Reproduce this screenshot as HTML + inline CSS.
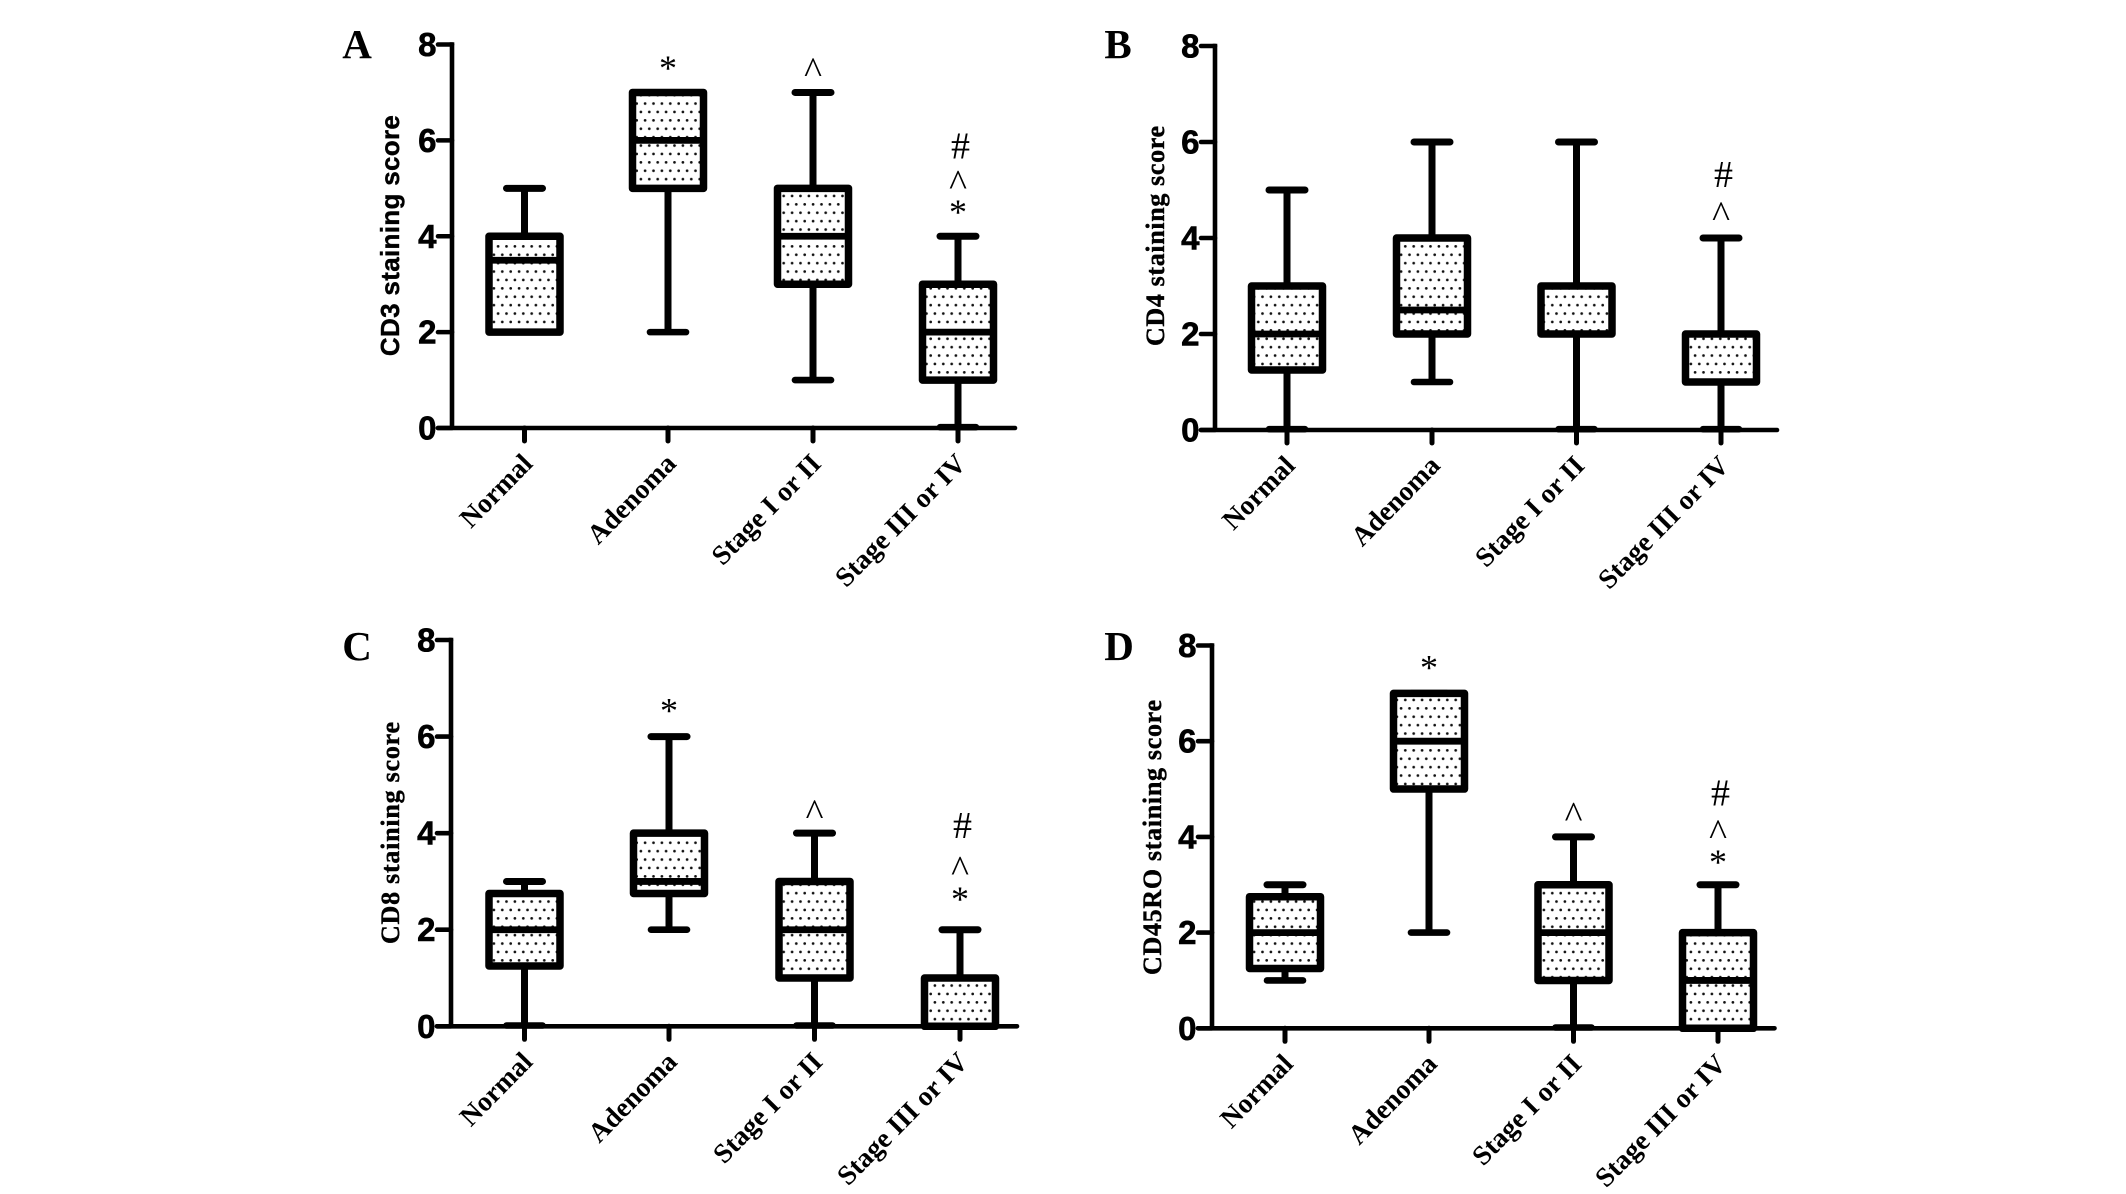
<!DOCTYPE html>
<html lang="en">
<head>
<meta charset="utf-8">
<title>T cell staining scores</title>
<style>
html,body{margin:0;padding:0;background:#fff;width:2126px;height:1194px;overflow:hidden}
svg{display:block}
</style>
</head>
<body>
<svg id="figure" xmlns="http://www.w3.org/2000/svg" width="2126" height="1194" viewBox="0 0 2126 1194">
  <rect width="2126" height="1194" fill="#fff"/>
  <defs>
    <pattern id="dots" patternUnits="userSpaceOnUse" x="496.7" y="245" width="8.4" height="16.8">
      <circle cx="1.4" cy="1.4" r="1.35" fill="#111"/>
      <circle cx="5.6" cy="9.8" r="1.35" fill="#111"/>
    </pattern>
  </defs>
</svg>
<script>
const categories = ['Normal', 'Adenoma', 'Stage I or II', 'Stage III or IV'];
const yTicks = [0, 2, 4, 6, 8];

const cd3Min = [2, 2, 1, 0];
const cd3Q1 = [2, 5, 3, 1];
const cd3Median = [3.5, 6, 4, 2];
const cd3Q3 = [4, 7, 5, 3];
const cd3Max = [5, 7, 7, 4];
const cd3MarkCategory = [1, 2, 3, 3, 3];
const cd3MarkSymbol = ['*', '^', '#', '^', '*'];
const cd3MarkValue = [7.57, 7.56, 5.87, 5.21, 4.56];

const cd4Min = [0, 1, 0, 0];
const cd4Q1 = [1.25, 2, 2, 1];
const cd4Median = [2, 2.5, 2, 1];
const cd4Q3 = [3, 4, 3, 2];
const cd4Max = [5, 6, 6, 4];
const cd4MarkCategory = [3, 3];
const cd4MarkSymbol = ['#', '^'];
const cd4MarkValue = [5.31, 4.59];

const cd8Min = [0, 2, 0, 0];
const cd8Q1 = [1.25, 2.75, 1, 0];
const cd8Median = [2, 3, 2, 0];
const cd8Q3 = [2.75, 4, 3, 1];
const cd8Max = [3, 6, 4, 2];
const cd8MarkCategory = [1, 2, 3, 3, 3];
const cd8MarkSymbol = ['*', '^', '#', '^', '*'];
const cd8MarkValue = [6.6, 4.53, 4.14, 3.36, 2.69];

const cd45Min = [1, 2, 0, 0];
const cd45Q1 = [1.25, 5, 1, 0];
const cd45Median = [2, 6, 2, 1];
const cd45Q3 = [2.75, 7, 3, 2];
const cd45Max = [3, 7, 4, 3];
const cd45MarkCategory = [1, 2, 3, 3, 3];
const cd45MarkSymbol = ['*', '^', '#', '^', '*'];
const cd45MarkValue = [7.6, 4.56, 4.9, 4.19, 3.53];

const panels = [
  {key:'a', letter:'A', lx:357, ly:58, title:'CD3 staining score', sans:true, tx:390, ty:235.6, tl:241,
   ax:452, y0:428, y8:44.5, cx:[524.5,668,813,958], end:1015,
   min:cd3Min, q1:cd3Q1, med:cd3Median, q3:cd3Q3, max:cd3Max, mc:cd3MarkCategory, ms:cd3MarkSymbol, mv:cd3MarkValue},
  {key:'b', letter:'B', lx:1118, ly:58, title:'CD4 staining score', sans:false, tx:1155, ty:236, tl:220,
   ax:1215, y0:430, y8:46, cx:[1287,1432,1576.5,1721], end:1777,
   min:cd4Min, q1:cd4Q1, med:cd4Median, q3:cd4Q3, max:cd4Max, mc:cd4MarkCategory, ms:cd4MarkSymbol, mv:cd4MarkValue},
  {key:'c', letter:'C', lx:357, ly:660, title:'CD8 staining score', sans:false, tx:390, ty:833, tl:222,
   ax:451, y0:1026.3, y8:640, cx:[524.5,669,814.5,960], end:1017,
   min:cd8Min, q1:cd8Q1, med:cd8Median, q3:cd8Q3, max:cd8Max, mc:cd8MarkCategory, ms:cd8MarkSymbol, mv:cd8MarkValue},
  {key:'d', letter:'D', lx:1119, ly:660, title:'CD45RO staining score', sans:false, tx:1152, ty:837.5, tl:275,
   ax:1212, y0:1028.3, y8:645.5, cx:[1285,1429,1573.5,1718], end:1774.5,
   min:cd45Min, q1:cd45Q1, med:cd45Median, q3:cd45Q3, max:cd45Max, mc:cd45MarkCategory, ms:cd45MarkSymbol, mv:cd45MarkValue}
];

const NS = 'http://www.w3.org/2000/svg';
const svg = document.getElementById('figure');
const SERIF = '"Liberation Serif", serif';
const SANS = '"Liberation Sans", sans-serif';

function make(parent, tag, attrs, text) {
  const el = document.createElementNS(NS, tag);
  for (const k in attrs) el.setAttribute(k, attrs[k]);
  if (text !== undefined) el.textContent = text;
  parent.appendChild(el);
  return el;
}
function line(parent, x1, y1, x2, y2, w, cap) {
  return make(parent, 'line', {x1, y1, x2, y2, stroke:'#000', 'stroke-width':w, 'stroke-linecap':cap || 'butt'});
}

panels.forEach(function (p) {
  const yScale = function (v) { return p.y0 - (v / 8) * (p.y0 - p.y8); };
  const g = make(svg, 'g', {});
  
  

  const letter = make(g, 'text', {x:p.lx, y:p.ly, 'text-anchor':'middle', 'font-family':SERIF, 'font-weight':'bold', 'font-size':41}, p.letter);
  
  

  const title = make(g, 'text', {x:0, y:0, 'text-anchor':'middle', 'font-family':p.sans ? SANS : SERIF, 'font-weight':'bold', 'font-size':26,
    stroke:'#000', 'stroke-width':0.4, textLength:p.tl, lengthAdjust:'spacing', transform:'translate(' + (p.tx + 9) + ',' + p.ty + ') rotate(-90)'}, p.title);
  
  

  categories.forEach(function (cat, i) {
    const c = p.cx[i];
    const box = make(g, 'g', {});
    
    
    const lowY = yScale(p.min[i]) - (p.min[i] === 0 ? 0.8 : 0);
    line(box, c, yScale(p.max[i]), c, lowY, 7);
    line(box, c - 18, yScale(p.max[i]), c + 18, yScale(p.max[i]), 7, 'round');
    line(box, c - 18, lowY, c + 18, lowY, 6.6, 'round');
    const top = yScale(p.q3[i]);
    const bottom = yScale(p.q1[i]);
    make(box, 'rect', {x:c - 35.5, y:top, width:71, height:bottom - top, fill:'#fff'});
    make(box, 'rect', {x:c - 35.5, y:top, width:71, height:bottom - top, fill:'url(#dots)', stroke:'#000', 'stroke-width':7.5, 'stroke-linejoin':'round'});
    line(box, c - 35.5, yScale(p.med[i]), c + 35.5, yScale(p.med[i]), 6.8);
  });

  const axes = make(g, 'g', {});
  
  
  line(axes, p.ax, p.y8 - 2.3, p.ax, p.y0, 4.6);
  line(axes, p.ax - 14, p.y0, p.end, p.y0, 4.6, 'round');

  yTicks.forEach(function (t) {
    const y = yScale(t);
    line(axes, p.ax - 14, y, p.ax, y, 4.6, 'round');
    const label = make(axes, 'text', {x:p.ax - 15.5, y:y + 11.5, 'text-anchor':'end', 'font-family':SANS, 'font-weight':'bold', 'font-size':33,
      stroke:'#000', 'stroke-width':0.6}, String(t));
    
    
  });

  categories.forEach(function (cat, i) {
    const c = p.cx[i];
    line(axes, c, p.y0, c, p.y0 + 13, 5, 'round');
    const bx = c + 9.5;
    const by = p.y0 + 37;
    const label = make(axes, 'text', {x:0, y:0, 'text-anchor':'end', 'font-family':SERIF, 'font-weight':'bold', 'font-size':27.5,
      transform:'translate(' + bx + ',' + by + ') rotate(-45.5)'}, cat);
    
    
  });

  p.mv.forEach(function (v, i) {
    const sym = p.ms[i];
    const size = sym === '#' ? 38 : (sym === '*' ? 36 : 38);
    const shift = sym === '#' ? 0.31 : (sym === '*' ? 0.41 : 0.47);
    const dx = sym === '#' ? 2.5 : 0;
    const mark = make(g, 'text', {x:p.cx[p.mc[i]] + dx, y:yScale(v) + size * shift, 'text-anchor':'middle', 'font-family':SERIF, 'font-size':size}, sym);
    
    
  });
});
</script>
</body>
</html>
